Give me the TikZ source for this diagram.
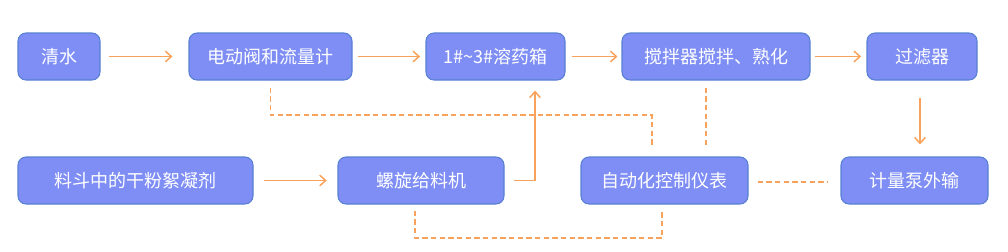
\documentclass[tikz,border=0pt]{standalone}
\usepackage{fontspec}
\newfontfamily\cjk{Noto Sans CJK SC}
\usetikzlibrary{arrows.meta, calc}
\definecolor{boxfill}{RGB}{127,142,245}
\definecolor{boxline}{RGB}{88,128,210}
\definecolor{flow}{RGB}{248,162,92}

\begin{document}
\begin{tikzpicture}[x=0.75pt,y=-0.75pt,>={Straight Barb[length=4.5pt,width=8pt]},
  box/.style={draw=boxline,line width=0.8pt,fill=boxfill,rounded corners=6pt,inner sep=0pt,
    minimum height=35.25pt,text=white,font=\cjk\fontsize{13.5}{16}\selectfont},
  feed/.style={->,draw=flow,line width=1.1pt},
  ctrl/.style={draw=flow,line width=1pt,dash pattern=on 4pt off 2.5pt}]
  \useasboundingbox (0,0) rectangle (1008,251);
  \foreach \n/\x/\y/\w/\t in {
    qs/59/56.5/61.5/{清水},
    ddf/270.5/56.5/122.25/{电动阀和流量计},
    rxy/495.5/56.5/104.25/{1\#\textasciitilde3\#溶药箱},
    jb/716/56.5/141/{搅拌器搅拌、熟化},
    glq/922/56.5/82.5/{过滤器},
    ld/135.5/180.5/176.25/{料斗中的干粉絮凝剂},
    lx/421/180.5/124.5/{螺旋给料机},
    zd/664.5/180.5/125.25/{自动化控制仪表},
    jl/914.5/180.5/110.25/{计量泵外输}}
  {
    \node[box,minimum width=\w pt](\n) at (\x,\y) {\t};
  }
  \draw[feed,shorten <=6.5pt,shorten >=12pt](qs)--(ddf);
  \draw[feed,shorten <=4pt,shorten >=4pt](ddf)--(rxy);
  \draw[feed,shorten <=4.5pt,shorten >=3pt](rxy)--(jb);
  \draw[feed,shorten <=3pt,shorten >=4pt](jb)--(glq);
  \draw[feed,shorten <=7.5pt,shorten >=8pt](ld)--(lx);
  \draw[feed,shorten <=7pt,shorten >=7.5pt](lx.east)-|($(rxy.south)+(39.5,0)$);
  \draw[feed,shorten <=13pt,shorten >=9pt]($(glq.south)+(-2,0)$)--($(jl.north)+(5.5,0)$);
  \draw[ctrl]($(ddf.south)+(0,7)$)|-(652,115)--($(zd.north)+(-12.5,-11)$);
  \draw[ctrl]($(jb.south)+(-10,7)$)--($(zd.north)+(41.5,-11)$);
  \draw[ctrl]($(zd.east)+(9,1.5)$)--($(jl.west)+(-13,1.5)$);
  \draw[ctrl]($(lx.south)+(-6,6)$)|-(662,238)--($(zd.south)+(-2.5,6)$);
\end{tikzpicture}
\end{document}
